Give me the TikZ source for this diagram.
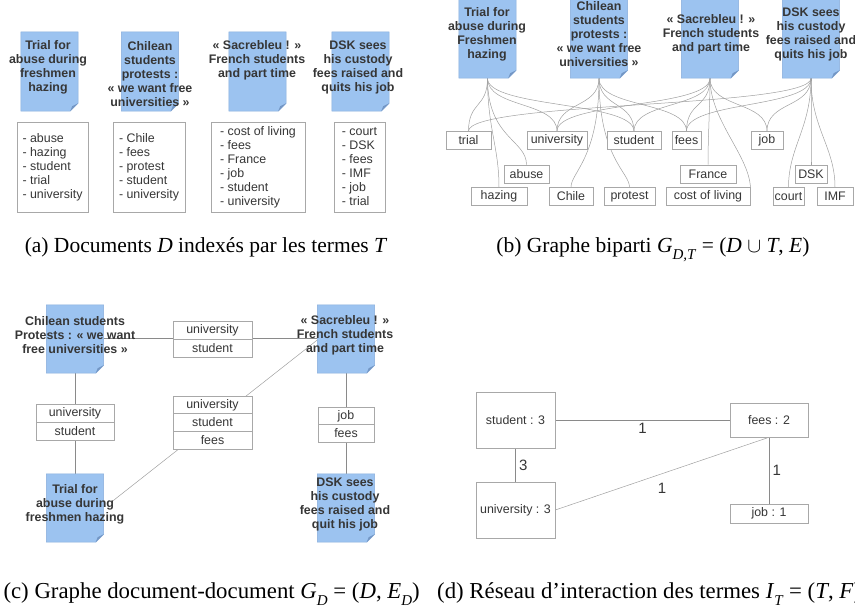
\documentclass[tikz,border=0pt]{standalone}
\usepackage{fontspec}
\setmainfont{Liberation Serif}
\newfontfamily\lsans{Liberation Sans}
\usetikzlibrary{calc}
\definecolor{docblue}{HTML}{9CC3F0}
\definecolor{docedge}{HTML}{86ACDA}
\definecolor{docfoldc}{HTML}{7396C4}
\definecolor{txt}{HTML}{363636}
\definecolor{edgec}{HTML}{A0A0A0}
\definecolor{edged}{HTML}{8A8A8A}
\definecolor{boxc}{HTML}{A8A8A8}
\pgfdeclarelayer{bg}
\pgfsetlayers{bg,main}
\tikzset{
 docrect/.style={inner sep=0pt, minimum width=57pt},
 docfill/.style={fill=docblue, draw=docedge, line width=0.5pt},
 docfold/.style={fill=docfoldc},
 doctext/.style={font=\lsans\bfseries\fontsize{12.4}{14}\selectfont, text=txt, align=center, inner sep=0pt},
 termlist/.style={draw=boxc, line width=0.6pt, fill=white, font=\lsans\fontsize{12.4}{14}\selectfont, text=txt, align=left, inner sep=0pt},
 term/.style={draw=boxc, line width=0.6pt, fill=white, font=\lsans\fontsize{12.4}{14}\selectfont, text=txt, inner sep=0pt, minimum height=18pt},
 link/.style={draw=edgec, line width=0.5pt},
 linkd/.style={draw=edged, line width=0.6pt},
 wlabel/.style={font=\lsans\fontsize{15}{15}\selectfont, text=txt},
 capt/.style={font=\fontsize{21.5}{24}\selectfont, inner sep=0pt},
 captb/.style={font=\fontsize{22.8}{24}\selectfont, inner sep=0pt},
}
\newcommand\docshape[4]{%
 \node[docrect, minimum height=#4pt] (#1) at (#2,#3) {};
 \path[docfill] (#1.north west) -- (#1.north east) -- ($(#1.south east)+(0,-8)$) -- ($(#1.south east)+(-8,0)$) -- (#1.south west) -- cycle;
 \fill[docfold] ($(#1.south east)+(0,-8)$) -- ($(#1.south east)+(-8,0)$) -- ($(#1.south east)+(-6,-5)$) -- cycle;
}
\newcommand\sbs[1]{\raisebox{-0.28em}{\fontsize{15}{15}\selectfont\textit{#1}}}
\begin{document}
\begin{tikzpicture}[x=1pt,y=-1pt]
\useasboundingbox (0,0) rectangle (855,609);
\clip (0,0) rectangle (855,609);

% ---------- (a) ----------
\docshape{a1}{49.5}{71.5}{79}
\node[doctext] (a1t) at (48,67) {Trial for\\abuse during\\freshmen\\hazing};
\docshape{a2}{150}{71.5}{79}
\node[doctext] (a2t) at (150,74) {Chilean\\students\\protests :\\« we want free\\universities »};
\docshape{a3}{257.5}{71.5}{79}
\node[doctext] (a3t) at (257,60) {« Sacrebleu ! »\\French students\\and part time};
\docshape{a4}{360.5}{71.5}{79}
\node[doctext] (a4t) at (358,67) {DSK sees\\his custody\\fees raised and\\quits his job};

\node[termlist, minimum width=71pt, minimum height=90pt] (a1l) at (52.5,167) {- abuse\\- hazing\\- student\\- trial\\- university};
\node[termlist, minimum width=72pt, minimum height=90pt] (a2l) at (149,167) {- Chile\\- fees\\- protest\\- student\\- university};
\node[termlist, minimum width=94pt, minimum height=90pt] (a3l) at (258,167) {- cost of living\\- fees\\- France\\- job\\- student\\- university};
\node[termlist, minimum width=51pt, minimum height=90pt] (a4l) at (359.5,167) {- court\\- DSK\\- fees\\- IMF\\- job\\- trial};

% ---------- (b) ----------
\docshape{b1}{487.5}{37.5}{81}
\node[doctext] (b1t) at (487,34) {Trial for\\abuse during\\Freshmen\\hazing};
\docshape{b2}{599}{37.5}{81}
\node[doctext] (b2t) at (599,34) {Chilean\\students\\protests :\\« we want free\\universities »};
\docshape{b3}{710}{37.5}{81}
\node[doctext] (b3t) at (711,34.5) {« Sacrebleu ! »\\French students\\and part time};
\docshape{b4}{811}{37.5}{81}
\node[doctext] (b4t) at (811,34) {DSK sees\\his custody\\fees raised and\\quits his job};

\node[term, minimum width=45pt] (trial) at (468.5,140.5) {trial};
\node[term, minimum width=60pt] (univ) at (557,140.5) {university};
\node[term, minimum width=54pt] (stud) at (634,140.5) {student};
\node[term, minimum width=29pt] (fees) at (686.5,140.5) {fees};
\node[term, minimum width=32pt] (job) at (767,140.5) {job};
\node[term, minimum width=45pt] (abuse) at (526.5,174) {abuse};
\node[term, minimum width=56pt] (france) at (708,174) {France};
\node[term, minimum width=32pt] (dsk) at (811,174) {DSK};
\node[term, minimum width=56pt] (hazing) at (499,196.5) {hazing};
\node[term, minimum width=44pt] (chile) at (571,196.5) {Chile};
\node[term, minimum width=51pt] (protest) at (629.5,196.5) {protest};
\node[term, minimum width=84pt] (col) at (708,196.5) {cost of living};
\node[term, minimum width=31pt] (court) at (788.5,196.5) {court};
\node[term, minimum width=36pt] (imf) at (835,196.5) {IMF};

\begin{pgfonlayer}{bg}
% doc 1
\draw[link] (b1.south) .. controls +(0,30) and +(0,-30) .. (trial.north);
\draw[link] (b1.south) .. controls +(0,30) and +(0,-30) .. (univ.north);
\draw[link] (b1.south) .. controls +(0,30) and +(0,-30) .. (stud.north);
\draw[link] (b1.south) .. controls +(0,60) and +(0,-25) .. (abuse.north);
\draw[link] (b1.south) .. controls +(0,50) and +(0,-40) .. (hazing.north);
% doc 2
\draw[link] (b2.south) .. controls +(0,80) and +(0,-15) .. (chile.north);
\draw[link] (b2.south) .. controls +(0,30) and +(0,-30) .. (fees.north);
\draw[link] (b2.south) .. controls +(0,80) and +(0,-15) .. (protest.north);
\draw[link] (b2.south) .. controls +(0,30) and +(0,-30) .. (stud.north);
\draw[link] (b2.south) .. controls +(0,30) and +(0,-30) .. (univ.north);
% doc 3
\draw[link] (b3.south) .. controls +(0,45) and +(4,-35) .. ($(col.east)+(0,-2)$);
\draw[link] (b3.south) .. controls +(0,30) and +(0,-30) .. (fees.north);
\draw[link] (b3.south) .. controls +(0,30) and +(0,-30) .. (france.north);
\draw[link] (b3.south) .. controls +(0,30) and +(0,-30) .. (job.north);
\draw[link] (b3.south) .. controls +(0,30) and +(0,-30) .. (stud.north);
\draw[link] (b3.south) .. controls +(0,30) and +(0,-30) .. (univ.north);
% doc 4
\draw[link] (b4.south) .. controls +(0,50) and +(0,-40) .. (court.north);
\draw[link] (b4.south) .. controls +(0,30) and +(0,-30) .. (dsk.north);
\draw[link] (b4.south) .. controls +(0,30) and +(0,-30) .. (fees.north);
\draw[link] (b4.south) .. controls +(0,50) and +(0,-40) .. (imf.north);
\draw[link] (b4.south) .. controls +(0,30) and +(0,-30) .. (job.north);
\draw[link] (b4.south) .. controls +(0,30) and +(0,-30) .. (trial.north);
\end{pgfonlayer}

% ---------- (c) ----------
\docshape{cch}{75}{339}{68}
\node[doctext] (ccht) at (75,335) {Chilean students\\Protests : « we want\\free universities »};
\docshape{cfr}{346}{339}{68}
\node[doctext] (cfrt) at (345,335) {« Sacrebleu ! »\\French students\\and part time};
\docshape{ctr}{75}{508}{68}
\node[doctext] (ctrt) at (75,504) {Trial for\\abuse during\\freshmen hazing};
\docshape{cdsk}{346}{508}{68}
\node[doctext] (cdskt) at (345,504) {DSK sees\\his custody\\fees raised and\\quit his job};

\node[term, minimum width=79pt] (cA1) at (212.5,330) {university};
\node[term, minimum width=79pt] (cA2) at (212.5,348) {student};
\node[term, minimum width=78pt] (cB1) at (75,413) {university};
\node[term, minimum width=78pt] (cB2) at (75,431) {student};
\node[term, minimum width=79pt, minimum height=17.7pt] (cC1) at (212.5,404.8) {university};
\node[term, minimum width=79pt, minimum height=17.7pt] (cC2) at (212.5,422.5) {student};
\node[term, minimum width=79pt, minimum height=17.7pt] (cC3) at (212.5,440.2) {fees};
\node[term, minimum width=56pt, minimum height=17.5pt] (cD1) at (346,415.8) {job};
\node[term, minimum width=56pt, minimum height=17.5pt] (cD2) at (346,433.3) {fees};

\coordinate (cdA) at ($(ctr.east)+(9,-7)$);
\coordinate (cdB) at ($(cfr.west)+(0,1)$);
\begin{pgfonlayer}{bg}
\draw[linkd] ($(cch.east)+(0,-1)$) -- ($(cfr.west)+(0,-1)$);
\draw[linkd] (cch.south) -- (ctr.north);
\draw[linkd] (cfr.south) -- (cdsk.north);
\draw[link] (cdA) -- (cdB);
\end{pgfonlayer}

% ---------- (d) ----------
\node[term, minimum width=79pt, minimum height=56pt] (dst) at (515.5,420) {student : 3};
\node[term, minimum width=79pt, minimum height=56pt] (dun) at (515.5,510) {university : 3};
\node[term, minimum width=78pt, minimum height=34pt] (dfe) at (769,420) {fees : 2};
\node[term, minimum width=78pt, minimum height=19pt] (djb) at (769,513.5) {job : 1};
\begin{pgfonlayer}{bg}
\draw[linkd] (dst) -- (dfe) node[wlabel, midway, below=0pt] (l1) {1};
\draw[linkd] (dst) -- (dun) node[wlabel, midway, right=0pt] (l2) {3};
\draw[link] (dun.east) -- (dfe.south) node[wlabel, midway, below=6pt] (l3) {1};
\draw[linkd] (dfe) -- (djb) node[wlabel, midway, right=0pt] (l4) {1};
\end{pgfonlayer}

% ---------- captions ----------
\node[capt, anchor=base] (capa) at (206,253) {(a) Documents \textit{D} indexés par les termes \textit{T}};
\node[capt, anchor=base] (capb) at (653,253) {(b) Graphe biparti \textit{G}\sbs{D,T} = (\textit{D} $\cup$ \textit{T}, \textit{E})};
\node[captb, anchor=base east] (capc) at (420,599) {(c) Graphe document-document \textit{G}\sbs{D} = (\textit{D}, \textit{E}\sbs{D})};
\node[captb, anchor=base west] (capd) at (437,599) {(d) Réseau d’interaction des termes \textit{I}\sbs{T} = (\textit{T}, \textit{F})};
\end{tikzpicture}
\end{document}
